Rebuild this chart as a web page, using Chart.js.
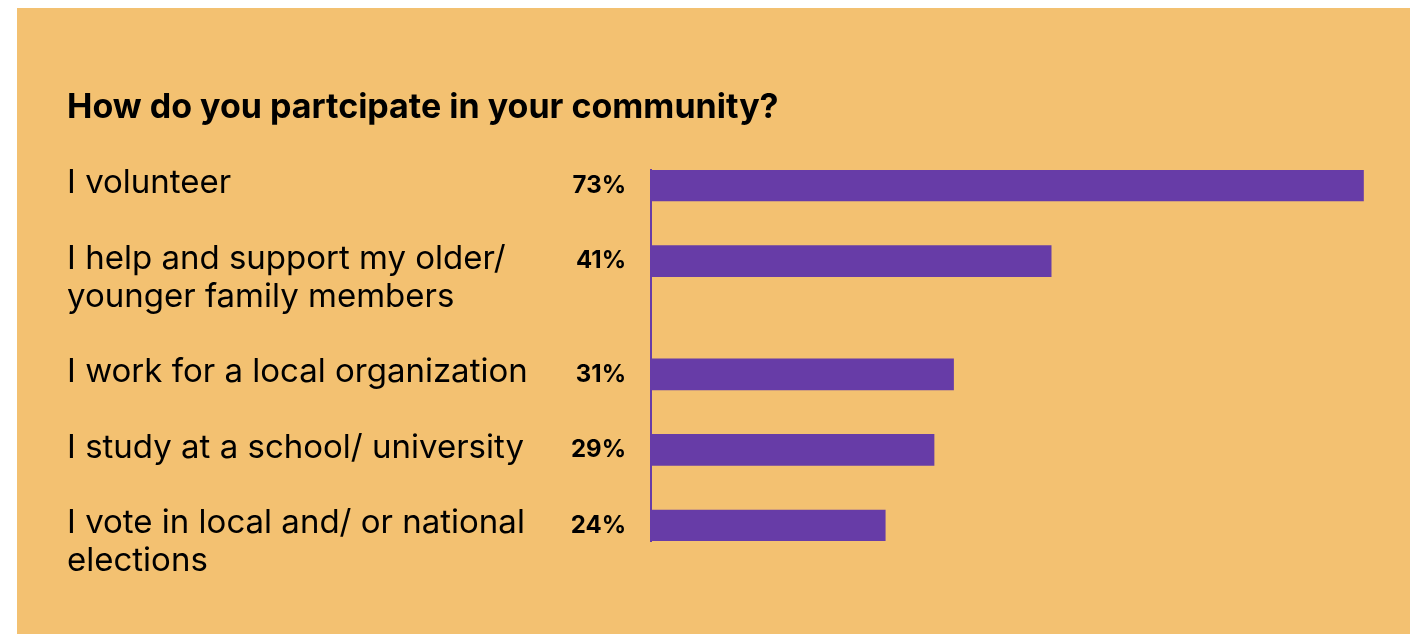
<!DOCTYPE html>
<html>
<head>
<meta charset="utf-8">
<title>Community participation</title>
<script src="https://cdn.jsdelivr.net/npm/chart.js@4.4.1/dist/chart.umd.min.js"></script>
<style>
  html, body { margin: 0; padding: 0; background: #ffffff; }
  #panel {
    position: absolute;
    left: 17px;
    top: 8px;
    width: 1393px;
    height: 626px;
    background: #f3c171;
  }
  #chart { display: block; }
</style>
</head>
<body>
<div id="panel">
  <canvas id="chart" width="1393" height="626"></canvas>
</div>
<script>
const chartTitle = 'How do you partcipate in your community?';

// each answer is an array of the lines it wraps to
const answers = [
    ['I volunteer'],
    ['I help and support my older/', 'younger family members'],
    ['I work for a local organization'],
    ['I study at a school/ university'],
    ['I vote in local and/ or national', 'elections']
];
const shares = [73, 41, 31, 29, 24];

const purple = '#673ca7';
const labelFont = '"Inter", "Noto Sans", sans-serif';

// rows sit 2 line-units apart, plus one for every extra wrapped line above
const rowSlots = [];
let slot = 0;
answers.forEach((lines, i) => {
    rowSlots.push(slot);
    slot += 2 + (lines.length - 1);
});

const points = shares.map((v, i) => ({ x: v, y: rowSlots[i] }));

const textPlugin = {
    id: 'textPlugin',
    afterDraw(chart) {
        const ctx = chart.ctx;
        const yScale = chart.scales.y;
        const area = chart.chartArea;
        ctx.save();
        ctx.fillStyle = '#000000';

        // heading
        ctx.font = '700 34px ' + labelFont;
        ctx.textAlign = 'left';
        ctx.textBaseline = 'alphabetic';
        ctx.fillText(chartTitle, 50, 110);

        answers.forEach((lines, i) => {
            const yc = yScale.getPixelForValue(rowSlots[i]);
            ctx.font = '400 33px ' + labelFont;
            ctx.textAlign = 'left';
            ctx.textBaseline = 'middle';
            lines.forEach((line, j) => {
                ctx.fillText(line, 50, yc - 2 + j * 38);
            });

            ctx.font = '700 24px ' + labelFont;
            ctx.textAlign = 'right';
            ctx.fillText(shares[i] + '%', area.left - 25, yc);
        });
        ctx.restore();
    }
};

new Chart(document.getElementById('chart'), {
    type: 'bar',
    data: {
        datasets: [{
            data: points,
            backgroundColor: purple,
            borderWidth: 0,
            barThickness: 31
        }]
    },
    options: {
        indexAxis: 'y',
        responsive: false,
        animation: false,
        layout: {
            padding: { left: 634, right: 27, top: 162, bottom: 93 }
        },
        plugins: {
            legend: { display: false },
            tooltip: { enabled: false }
        },
        scales: {
            x: {
                type: 'linear',
                min: 0,
                max: 75,
                display: false
            },
            y: {
                type: 'linear',
                reverse: true,
                offset: false,
                min: -0.41,
                max: 9.41,
                grid: { display: false, drawTicks: false },
                ticks: { display: false },
                border: { display: true, color: purple, width: 2 }
            }
        }
    },
    plugins: [textPlugin]
});
</script>
</body>
</html>
